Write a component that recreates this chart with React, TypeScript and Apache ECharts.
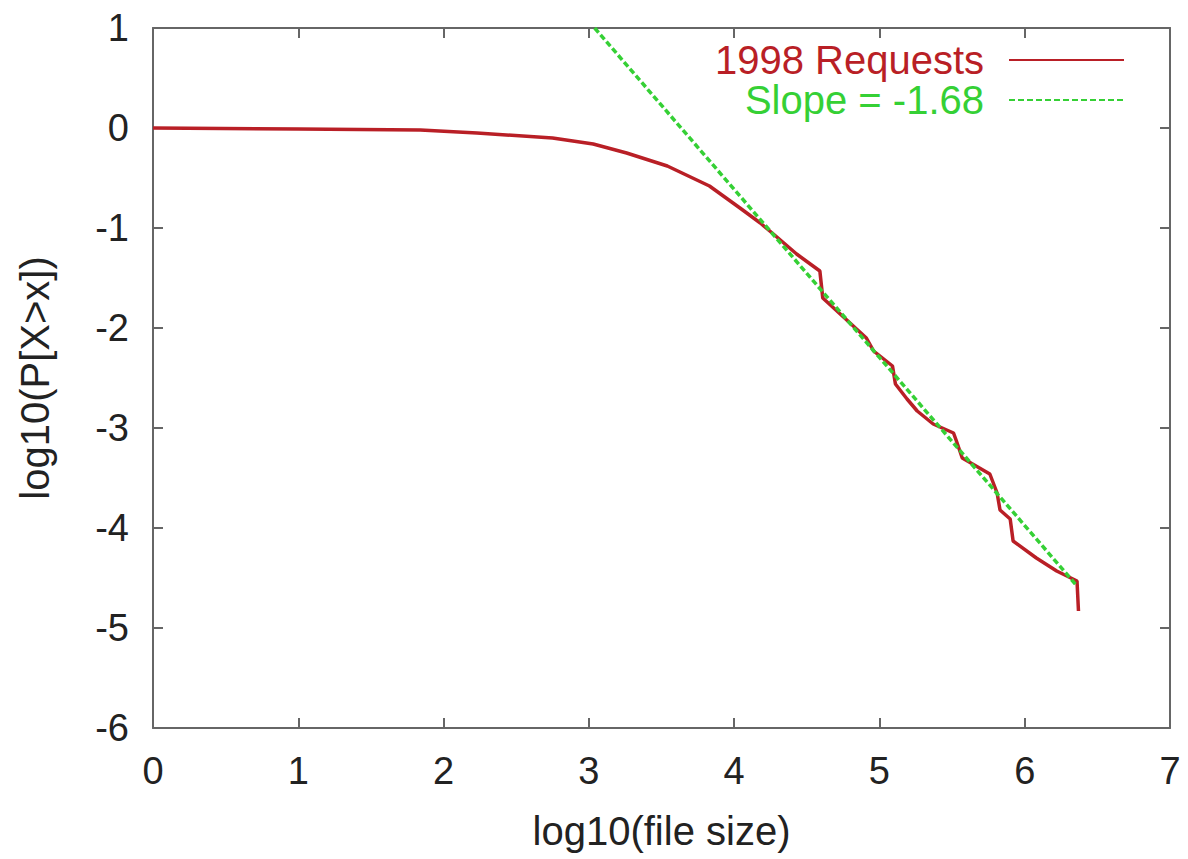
import React, { useEffect, useRef } from "react";
import * as echarts from "echarts";

const redX = [0, 1.0, 1.84, 2.23, 2.75, 3.03, 3.26, 3.54, 3.83, 4.04, 4.18, 4.27, 4.43, 4.59, 4.61, 4.91, 4.96, 5.09, 5.11, 5.19, 5.26, 5.37, 5.51, 5.53, 5.57, 5.76, 5.81, 5.83, 5.9, 5.92, 6.08, 6.22, 6.36, 6.37];
const redY = [0, -0.01, -0.02, -0.05, -0.1, -0.16, -0.25, -0.38, -0.58, -0.8, -0.95, -1.06, -1.26, -1.43, -1.7, -2.1, -2.23, -2.38, -2.56, -2.71, -2.83, -2.96, -3.05, -3.13, -3.3, -3.46, -3.65, -3.82, -3.91, -4.13, -4.3, -4.43, -4.53, -4.83];
const slopeX = [3.04, 6.36];
const slopeY = [1, -4.58];
const xTicks = [0, 1, 2, 3, 4, 5, 6, 7];
const yTicks = [-6, -5, -4, -3, -2, -1, 0, 1];
const seriesNames = ["1998 Requests", "Slope = -1.68"];

const RED = "#b91f26";
const GREEN = "#35d035";
const AXIS = "#666";
const FONT = "Liberation Sans";

export default function App() {
  const ref = useRef<HTMLDivElement>(null);
  useEffect(() => {
    if (!ref.current) return;
    const chart = echarts.init(ref.current, null, { renderer: "svg" });
    const redData = redX.map((x, i) => [x, redY[i]]);
    const slopeData = slopeX.map((x, i) => [x, slopeY[i]]);
    const axisCommon = {
      type: "value" as const,
      interval: 1,
      axisLine: { show: true, onZero: false, lineStyle: { color: AXIS, width: 2 } },
      axisTick: { show: true, inside: true, length: 10, lineStyle: { color: AXIS, width: 2 } },
      splitLine: { show: false },
    };
    chart.setOption({
      animation: false,
      backgroundColor: "#fff",
      textStyle: { fontFamily: FONT },
      grid: { left: 153, right: 18, top: 28, bottom: 131 },
      legend: {
        orient: "vertical",
        align: "right",
        right: 58,
        top: 35,
        itemWidth: 115,
        itemHeight: 14,
        itemGap: 0,
        itemStyle: { opacity: 0 },
        textStyle: { fontSize: 40, fontFamily: FONT, padding: [0, 20, 0, 0] },
        data: [
          { name: seriesNames[0], textStyle: { color: RED } },
          { name: seriesNames[1], textStyle: { color: GREEN } },
        ],
      },
      xAxis: [
        {
          ...axisCommon,
          position: "bottom",
          min: xTicks[0],
          max: xTicks[xTicks.length - 1],
          name: "log10(file size)",
          nameLocation: "middle",
          nameGap: 83,
          nameTextStyle: { fontSize: 40, color: "#222", fontFamily: FONT },
          axisLabel: { fontSize: 38, color: "#222", margin: 24, fontFamily: FONT },
        },
        {
          ...axisCommon,
          position: "top",
          min: xTicks[0],
          max: xTicks[xTicks.length - 1],
          axisLabel: { show: false },
        },
      ],
      yAxis: [
        {
          ...axisCommon,
          position: "left",
          min: yTicks[0],
          max: yTicks[yTicks.length - 1],
          name: "log10(P[X>x])",
          nameLocation: "middle",
          nameGap: 98,
          nameTextStyle: { fontSize: 40, color: "#222", fontFamily: FONT },
          axisLabel: { fontSize: 38, color: "#222", margin: 24, fontFamily: FONT },
        },
        {
          ...axisCommon,
          position: "right",
          min: yTicks[0],
          max: yTicks[yTicks.length - 1],
          axisLabel: { show: false },
        },
      ],
      series: [
        {
          name: seriesNames[0],
          type: "line",
          data: redData,
          showSymbol: false,
          symbol: "none",
          color: RED,
          lineStyle: { color: RED, width: 3.5 },
          xAxisIndex: 0,
          yAxisIndex: 0,
          z: 3,
        },
        {
          name: seriesNames[1],
          type: "line",
          data: slopeData,
          showSymbol: false,
          symbol: "none",
          color: GREEN,
          lineStyle: { color: GREEN, width: 3.5, type: [6, 3] },
          xAxisIndex: 0,
          yAxisIndex: 0,
          z: 4,
        },
      ],
    });
    return () => chart.dispose();
  }, []);
  return <div ref={ref} style={{ width: 1188, height: 859, position: "absolute", left: 0, top: 0 }} />;
}
